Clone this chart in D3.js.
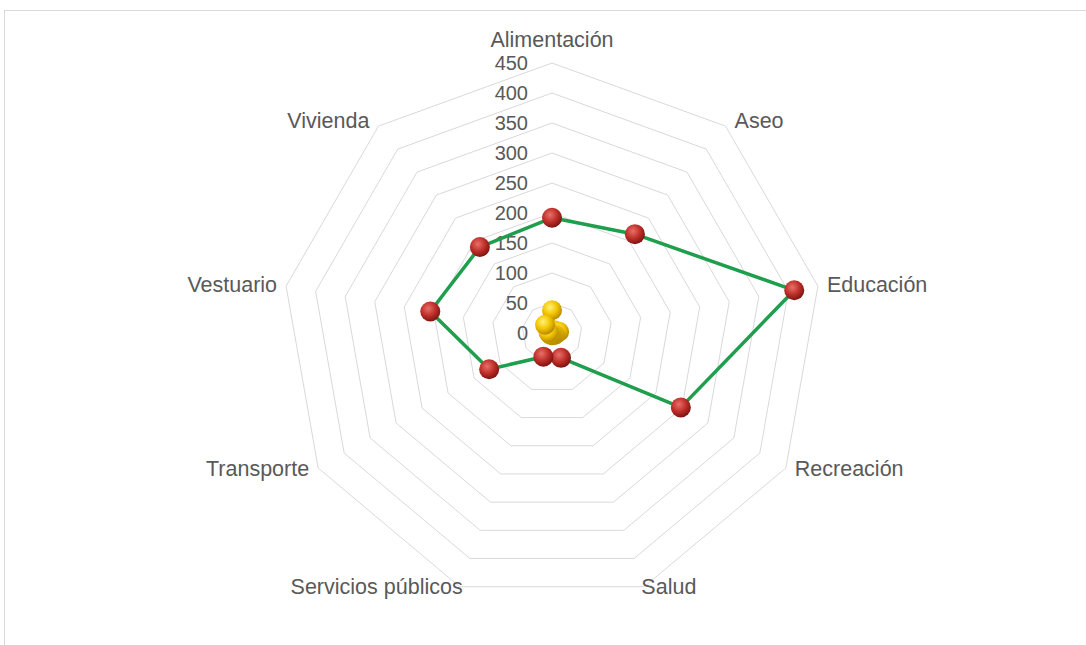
<!DOCTYPE html>
<meta charset="utf-8">
<head>
  <title>Radar gastos</title>
</head>

<style>
body {
  margin: 0;
  background: #fff;
  font-family: "Liberation Sans", Arial, sans-serif;
}
text {
  fill: #595959;
}
</style>

<body>
  <div id="chart"></div>

  <script src="https://cdnjs.cloudflare.com/ajax/libs/d3/7.8.5/d3.min.js"></script>

  <script>
var categories = ['Alimentación', 'Aseo', 'Educación', 'Recreación', 'Salud',
  'Servicios públicos', 'Transporte', 'Vestuario', 'Vivienda'];

var seriesRed = [192, 215, 410, 248, 44, 42, 121, 206, 187];
var seriesGold = [38, 6, 12, 6, 4, 4, 4, 6, 18];

var ticks = [0, 50, 100, 150, 200, 250, 300, 350, 400, 450];

var width = 1086, height = 645;
var cx = 552, cy = 333;

var svg = d3.select('#chart').append('svg')
  .attr('width', width)
  .attr('height', height);

// chart frame
svg.append('rect')
  .attr('x', 4.5).attr('y', 10.5)
  .attr('width', width).attr('height', height)
  .attr('fill', '#fff')
  .attr('stroke', '#d9d9d9');

var r = d3.scaleLinear().domain([0, 450]).range([0, 270]);
var angle = d3.scalePoint().domain(categories).range([0, 2 * Math.PI * 8 / 9]);

function pt(cat, v) {
  var a = angle(cat);
  return [cx + r(v) * Math.sin(a), cy - r(v) * Math.cos(a)];
}

var defs = svg.append('defs');
function ball(id, light, mid, dark) {
  var g = defs.append('radialGradient').attr('id', id)
    .attr('cx', '40%').attr('cy', '35%').attr('r', '65%');
  g.append('stop').attr('offset', '0%').attr('stop-color', light);
  g.append('stop').attr('offset', '55%').attr('stop-color', mid);
  g.append('stop').attr('offset', '100%').attr('stop-color', dark);
}
ball('redBall', '#e8706a', '#c0302a', '#7d1512');
ball('goldBall', '#fff27a', '#f2c500', '#b98a00');

// grid rings
var grid = svg.append('g');
ticks.slice(1).forEach(function(t) {
  grid.append('path')
    .attr('d', d3.line()(categories.map(function(c) { return pt(c, t); })) + 'Z')
    .attr('fill', 'none')
    .attr('stroke', '#d9d9d9')
    .attr('stroke-width', 1);
});

// tick labels
svg.append('g').selectAll('text')
  .data(ticks)
  .join('text')
  .attr('x', cx - 24)
  .attr('y', function(d) { return cy - r(d); })
  .attr('dy', '0.35em')
  .attr('text-anchor', 'end')
  .attr('font-size', 20)
  .text(function(d) { return d; });

// category labels
svg.append('g').selectAll('text')
  .data(categories)
  .join('text')
  .attr('x', function(c) {
    var s = Math.sin(angle(c));
    var p = pt(c, 450);
    if (Math.abs(s) < 0.1) return p[0];
    if (Math.abs(s) < 0.5) return p[0] - 3 * Math.sign(s);
    return p[0] + 9 * Math.sign(s);
  })
  .attr('y', function(c) {
    var a = angle(c);
    var p = pt(c, 450);
    if (Math.abs(Math.sin(a)) < 0.1) return p[1] - 24;
    return p[1] + Math.min(0, -8 * Math.cos(a));
  })
  .attr('dy', '0.35em')
  .attr('text-anchor', function(c) {
    var s = Math.sin(angle(c));
    return Math.abs(s) < 0.1 ? 'middle' : (s > 0 ? 'start' : 'end');
  })
  .attr('font-size', 21.5)
  .text(function(c) { return c; });

function drawSeries(values, color, fillId) {
  var pts = categories.map(function(c, i) { return pt(c, values[i]); });
  svg.append('path')
    .attr('d', d3.line()(pts) + 'Z')
    .attr('fill', 'none')
    .attr('stroke', color)
    .attr('stroke-width', 3.5)
    .attr('stroke-linejoin', 'round');
  svg.append('g').selectAll('circle')
    .data(pts)
    .join('circle')
    .attr('cx', function(d) { return d[0]; })
    .attr('cy', function(d) { return d[1]; })
    .attr('r', 10)
    .attr('fill', 'url(#' + fillId + ')');
}

drawSeries(seriesGold, '#e0b000', 'goldBall');
drawSeries(seriesRed, '#1f9e4d', 'redBall');
  </script>
</body>
</html>
